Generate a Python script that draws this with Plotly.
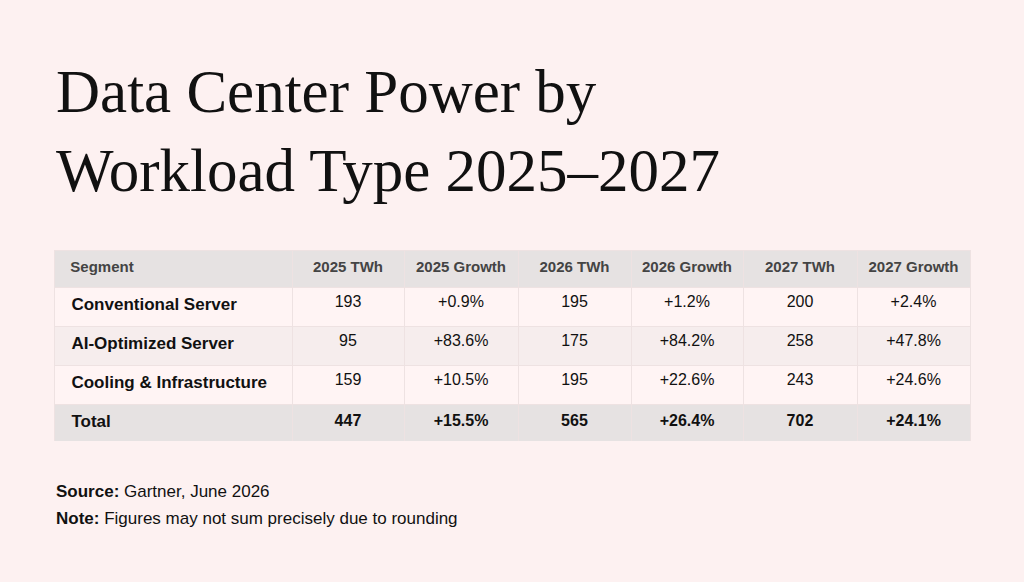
import plotly.graph_objects as go

# table content
columns = ["Segment", "2025 TWh", "2025 Growth", "2026 TWh", "2026 Growth", "2027 TWh", "2027 Growth"]
segments = ["Conventional Server", "AI-Optimized Server", "Cooling & Infrastructure", "Total"]
twh_2025 = [193, 95, 159, 447]
growth_2025 = ["+0.9%", "+83.6%", "+10.5%", "+15.5%"]
twh_2026 = [195, 175, 195, 565]
growth_2026 = ["+1.2%", "+84.2%", "+22.6%", "+26.4%"]
twh_2027 = [200, 258, 243, 702]
growth_2027 = ["+2.4%", "+47.8%", "+24.6%", "+24.1%"]

BG = "#fdf1f1"
ROW_A = "#fff4f4"
ROW_B = "#f6eded"
BAND = "#e6e2e2"
LINE = "#eee2e2"

W, H = 1024, 582
pad = "\u00a0\u00a0"


def bold_last(vals):
    # total row is bold
    out = [str(v) for v in vals]
    out[-1] = "<b>" + out[-1] + "</b>"
    return out


seg_cells = [pad + "<b>" + s.replace("&", "&amp;") + "</b>" for s in segments]
cols = [seg_cells] + [bold_last(c) for c in
                      (twh_2025, growth_2025, twh_2026, growth_2026, twh_2027, growth_2027)]

row_fill = [ROW_A, ROW_B, ROW_A, BAND]

fig = go.Figure(go.Table(
    domain=dict(x=[54 / W, 970 / W], y=[1 - 442 / H, 1 - 250 / H]),
    columnwidth=[238, 112, 114, 113, 112, 114, 113],
    header=dict(
        values=[(pad if i == 0 else "") + "<b>" + c + "</b>" for i, c in enumerate(columns)],
        fill_color=BAND,
        line=dict(color=LINE, width=1),
        align=["left"] + ["center"] * 6,
        font=dict(family="Liberation Sans, Arial, sans-serif", size=15, color="#444444"),
        height=37,
    ),
    cells=dict(
        values=cols,
        fill_color=[row_fill] * 7,
        line=dict(color=LINE, width=1),
        align=["left"] + ["center"] * 6,
        font=dict(family="Liberation Sans, Arial, sans-serif",
                  size=[17] + [16] * 6, color="#111111"),
        height=39,
    ),
))

fig.add_annotation(
    text="Data Center Power by<br>Workload Type 2025\u20132027",
    x=54 / W, y=1 - 56 / H, xref="paper", yref="paper",
    xanchor="left", yanchor="top", align="left", showarrow=False,
    font=dict(family="Liberation Serif, Times New Roman, serif", size=61, color="#111111"),
)

footer = [
    ("Source:", "Gartner, June 2026", 491),
    ("Note:", "Figures may not sum precisely due to rounding", 518),
]
for label, txt, ypix in footer:
    fig.add_annotation(
        text="<b>" + label + "</b> " + txt,
        x=54 / W, y=1 - ypix / H, xref="paper", yref="paper",
        xanchor="left", yanchor="middle", align="left", showarrow=False,
        font=dict(family="Liberation Sans, Arial, sans-serif", size=17, color="#111111"),
    )

fig.update_layout(
    width=W, height=H,
    margin=dict(l=0, r=0, t=0, b=0),
    paper_bgcolor=BG, plot_bgcolor=BG,
)

fig.write_html("out.html", config={"displayModeBar": False},
               post_script="document.body.style.margin='0';")
